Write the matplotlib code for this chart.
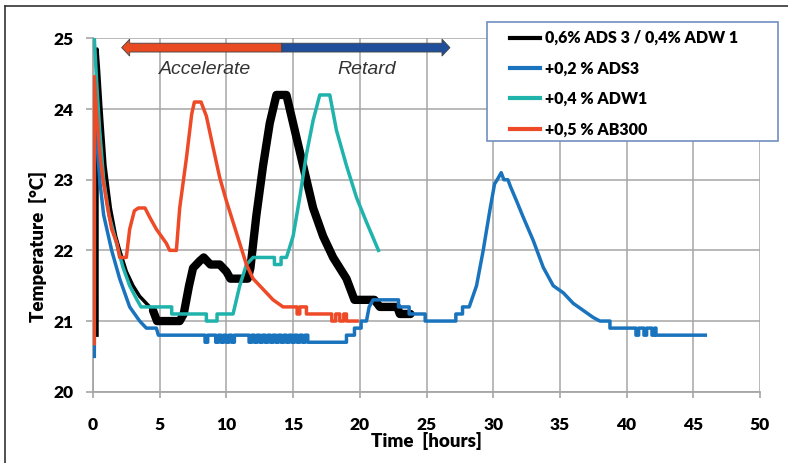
import numpy as np
import matplotlib
matplotlib.use("Agg")
import matplotlib.pyplot as plt
from matplotlib.lines import Line2D
from matplotlib.patches import FancyArrow, Rectangle

plt.rcParams["font.family"] = ["Lato", "DejaVu Sans"]

# time [hours], temperature [degC]
black_t = [0.3, 0.3, 0.4, 0.6, 0.9, 1.3, 1.7, 2.0, 2.5, 3.0, 3.5, 4.0, 4.5,
           4.8, 6.5, 6.8, 7.2, 7.5, 8.0, 8.3, 8.8, 9.5, 10.0, 10.3, 11.6,
           11.8, 12.25, 12.75, 13.25, 13.75, 14.5, 15.0, 15.75, 16.5, 17.25,
           18.0, 19.0, 19.6, 21.1, 21.5, 22.8, 23.0, 23.8]
black_T = [20.8, 24.85, 24.6, 24.0, 23.2, 22.6, 22.2, 22.0, 21.7, 21.5, 21.35,
           21.25, 21.15, 21.0, 21.0, 21.1, 21.5, 21.75, 21.85, 21.9, 21.8, 21.8,
           21.7, 21.6, 21.6, 21.75, 22.5, 23.2, 23.8, 24.2, 24.2, 23.8, 23.2,
           22.6, 22.2, 21.9, 21.6, 21.3, 21.3, 21.2, 21.2, 21.1, 21.1]

blue_t = [0.1, 0.12, 0.3, 0.5, 0.8, 1.4, 2.0, 2.75, 3.5, 4.0, 4.75, 4.9,
          8.4, 8.4, 8.6, 8.6, 9.2, 9.2, 9.4, 9.4, 9.6, 9.6, 9.8, 9.8, 10.0,
          10.0, 10.2, 10.2, 10.4, 10.4, 10.6, 10.6, 11.7, 11.7, 11.9, 11.9,
          12.1, 12.1, 12.3, 12.3, 12.5, 12.5, 12.7, 12.7, 12.9, 12.9, 13.1,
          13.1, 13.3, 13.3, 13.5, 13.5, 13.7, 13.7, 13.9, 13.9, 14.1, 14.1,
          14.3, 14.3, 14.5, 14.5, 14.7, 14.7, 14.9, 14.9, 15.1, 15.1, 15.3,
          15.3, 15.5, 15.5, 15.7, 15.7, 15.9, 15.9, 16.1, 16.1, 16.3, 16.3,
          19.0, 19.0, 19.6, 19.6, 20.1, 20.1, 20.5,
          20.7, 21.0, 22.9, 22.9, 23.7, 23.7, 24.9, 24.9, 27.2, 27.2, 27.7,
          27.7, 28.2, 28.75, 29.25, 29.75, 30.1, 30.3, 30.6, 30.8, 31.1, 31.3,
          31.75, 32.25, 33.0, 33.75, 34.5, 35.25, 36.0, 36.75, 37.5, 38.0,
          38.75, 38.75, 40.7, 40.7, 40.9, 40.9, 41.3, 41.3, 41.5, 41.5, 41.9,
          41.9, 42.1, 42.1, 42.2, 42.2, 45.9]
blue_T = [20.5, 24.0, 23.6, 23.0, 22.5, 22.0, 21.6, 21.2, 21.0, 20.9, 20.9, 20.8,
          20.8, 20.7, 20.7, 20.8, 20.8, 20.7, 20.7, 20.8, 20.8, 20.7, 20.7, 20.8,
          20.8, 20.7, 20.7, 20.8, 20.8, 20.7, 20.7, 20.8, 20.8, 20.7, 20.7, 20.8,
          20.8, 20.7, 20.7, 20.8, 20.8, 20.7, 20.7, 20.8, 20.8, 20.7, 20.7, 20.8,
          20.8, 20.7, 20.7, 20.8, 20.8, 20.7, 20.7, 20.8, 20.8, 20.7, 20.7, 20.8,
          20.8, 20.7, 20.7, 20.8, 20.8, 20.7, 20.7, 20.8, 20.8, 20.7, 20.7, 20.8,
          20.8, 20.7, 20.7, 20.8, 20.8, 20.7, 20.7, 20.7,
          20.7, 20.8, 20.8, 20.9, 20.9, 21.0, 21.0, 21.2, 21.3, 21.3,
          21.2, 21.2, 21.1, 21.1, 21.0, 21.0, 21.1, 21.1, 21.2, 21.2, 21.5, 22.0,
          22.57, 22.94, 23.0, 23.1, 23.0, 23.0, 22.9, 22.7, 22.47, 22.14, 21.76,
          21.5, 21.4, 21.25, 21.15, 21.05, 21.0, 21.0, 20.9, 20.9, 20.8, 20.8,
          20.9, 20.9, 20.8, 20.8, 20.9, 20.9, 20.8, 20.8, 20.9, 20.9, 20.8, 20.8]

teal_t = [0.1, 0.3, 0.5, 0.8, 1.2, 1.9, 2.25, 2.75, 3.3, 3.6, 5.9, 5.9, 8.5,
          8.5, 9.3, 9.3, 10.5, 11.0, 11.5, 12.0, 13.6, 13.6, 14.1, 14.1, 14.5,
          15.0, 15.5, 16.0, 16.5, 17.0, 17.75, 18.25, 19.0, 19.75, 20.5, 21.4]
teal_T = [25.0, 24.3, 23.7, 23.0, 22.5, 22.0, 21.76, 21.5, 21.3, 21.2, 21.2,
          21.1, 21.1, 21.0, 21.0, 21.1, 21.1, 21.5, 21.8, 21.9, 21.9, 21.8,
          21.8, 21.9, 21.9, 22.2, 22.75, 23.36, 23.84, 24.2, 24.2, 23.7, 23.2,
          22.75, 22.4, 22.0]

red_t = [0.1, 0.1, 0.25, 0.5, 0.75, 1.1, 1.4, 1.8, 2.0, 2.5, 2.75, 3.1, 3.4,
         3.9, 4.25, 4.75, 5.5, 5.75, 6.25, 6.5, 7.0, 7.4, 7.6, 8.1, 8.5, 9.0,
         9.5, 10.0, 10.5, 11.0, 11.5, 12.0, 12.5, 13.0, 13.5, 14.25, 15.3,
         15.3, 15.5, 15.5, 16.0, 16.0, 17.9, 17.9, 18.2, 18.2, 18.5, 18.5,
         18.8, 18.8, 19.0, 19.0, 19.8]
red_T = [20.68, 24.46, 24.0, 23.4, 23.0, 22.6, 22.3, 22.1, 21.9, 21.9, 22.3,
         22.56, 22.6, 22.6, 22.47, 22.3, 22.1, 22.0, 22.0, 22.6, 23.3, 23.93,
         24.1, 24.1, 23.9, 23.46, 23.03, 22.7, 22.4, 22.1, 21.8, 21.6, 21.5,
         21.4, 21.3, 21.2, 21.2, 21.1, 21.1, 21.2, 21.2, 21.1, 21.1, 21.0,
         21.0, 21.1, 21.1, 21.0, 21.0, 21.1, 21.1, 21.0, 21.0]

labels = ["0,6% ADS 3 / 0,4% ADW 1", "+0,2 % ADS3", "+0,4 % ADW1", "+0,5 % AB300"]
colors = ["#000000", "#1a74bd", "#1fb3ac", "#ee4a27"]

fig = plt.figure(figsize=(7.88, 4.63), dpi=100)
ax = fig.add_axes([0.118, 0.154, 0.8465, 0.763])

grid_c = "#a6a6a6"
ax.set_xlim(0, 50)
ax.set_ylim(20, 25)
ax.set_xticks(np.arange(0, 51, 5))
ax.set_yticks(np.arange(20, 26, 1))
ax.grid(True, color=grid_c, lw=1.1)
ax.set_axisbelow(True)
for s in ["top", "right"]:
    ax.spines[s].set_visible(False)
for s in ["left", "bottom"]:
    ax.spines[s].set_color(grid_c)
    ax.spines[s].set_linewidth(1.3)
ax.tick_params(axis="x", length=4, width=1.2, color=grid_c, pad=14, labelsize=12.5)
ax.tick_params(axis="y", length=5, width=1.2, color=grid_c, pad=9, labelsize=12.5)
for lab in ax.get_xticklabels() + ax.get_yticklabels():
    lab.set_fontweight("heavy")

# black: thin while cooling, thick afterwards
bt = np.array(black_t)
bT = np.array(black_T)
thin = bt <= 4.5
thick = bt >= 4.5
ax.plot(bt[thin], bT[thin], color=colors[0], lw=2.5, zorder=3)
ax.plot(bt[thick], bT[thick], color=colors[0], lw=6, zorder=3,
        solid_joinstyle="round", solid_capstyle="round")
ax.plot(blue_t, blue_T, color=colors[1], lw=2.5, zorder=4)
ax.plot(teal_t, teal_T, color=colors[2], lw=2.5, zorder=5)
ax.plot(red_t, red_T, color=colors[3], lw=2.5, zorder=6)

# accelerate / retard arrow
mid, left, right, ya = 14.15, 2.15, 26.76, 24.87
ax.add_patch(FancyArrow(mid, ya, left - mid, 0, width=0.125, head_width=0.24,
                        head_length=0.6, length_includes_head=True,
                        facecolor="#e84a21", edgecolor="#444444", lw=0.6, zorder=7))
ax.add_patch(FancyArrow(mid, ya, right - mid, 0, width=0.125, head_width=0.24,
                        head_length=0.6, length_includes_head=True,
                        facecolor="#1f4e9a", edgecolor="#444444", lw=0.6, zorder=7))
ax.text(8.4, 24.56, "Accelerate", ha="center", va="center", fontsize=14,
        style="italic", color="#333333", family=["Liberation Sans", "DejaVu Sans"])
ax.text(20.5, 24.56, "Retard", ha="center", va="center", fontsize=14,
        style="italic", color="#333333", family=["Liberation Sans", "DejaVu Sans"])

# legend box drawn separately so the entries can sit inset from its edge
fig.add_artist(Rectangle((0.618, 0.695), 0.369, 0.257, transform=fig.transFigure,
                         facecolor="white", edgecolor="#6f8fc0", lw=1.2, zorder=8))
handles = [Line2D([], [], color=c, lw=3) for c in colors]
leg = fig.legend(handles, labels, loc="upper left",
                 bbox_to_anchor=(0.647, 0.935), frameon=False,
                 prop={"weight": "heavy", "size": 11.5}, handlelength=1.9,
                 handletextpad=0.3, labelspacing=0.9, borderpad=0,
                 borderaxespad=0)
leg.set_zorder(9)

fig.text(0.541, 0.048, "Time  [hours]", ha="center", va="center",
         fontsize=13.5, fontweight="heavy")
fig.text(0.048, 0.467, "Temperature  [°C]", ha="center", va="center",
         fontsize=13.5, fontweight="heavy", rotation=90)

# outer frame (left and top edges visible)
fig.add_artist(Line2D([0.0065, 0.0065], [0.0, 0.987], color="#333333", lw=1.2))
fig.add_artist(Line2D([0.0065, 1.0], [0.987, 0.987], color="#333333", lw=1.2))

fig.savefig("out.png", dpi=100)
